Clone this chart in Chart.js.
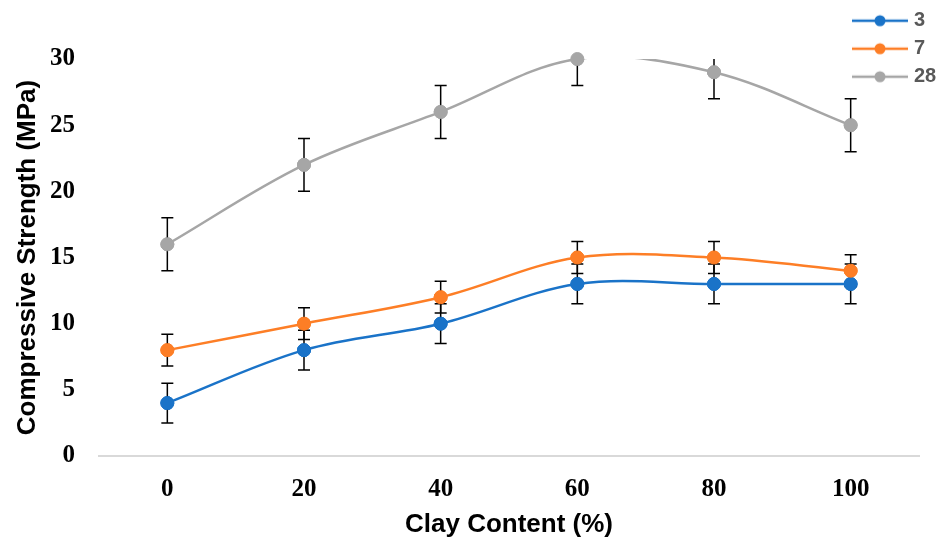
<!DOCTYPE html>
<html>
<head>
<meta charset="utf-8">
<script src="https://cdn.jsdelivr.net/npm/chart.js@4.4.0/dist/chart.umd.min.js"></script>
<style>
  html, body { margin: 0; padding: 0; background: #fff; }
  #wrap { width: 941px; height: 543px; position: relative; }
</style>
</head>
<body>
<div id="wrap"><canvas id="strengthChart"></canvas></div>
<script>
var clayContent = ['0', '20', '40', '60', '80', '100'];
var strength3 = [4, 8, 10, 13, 13, 13];
var strength7 = [8, 10, 12, 15, 15, 14];
var strength28 = [16, 22, 26, 30, 29, 25];
var error3 = [1.5, 1.5, 1.5, 1.5, 1.5, 1.5];
var error7 = [1.2, 1.2, 1.2, 1.2, 1.2, 1.2];
var error28 = [2, 2, 2, 2, 2, 2];
var yTicks = [0, 5, 10, 15, 20, 25, 30];

var blue = '#1a73c8', orange = '#fd7e26', gray = '#a6a6a6';

// little line + dot picture for the legend
function legendSample(color) {
  var c = document.createElement('canvas');
  c.width = 56; c.height = 14;
  var g = c.getContext('2d');
  g.strokeStyle = color; g.lineWidth = 2.5;
  g.beginPath(); g.moveTo(0, 7); g.lineTo(56, 7); g.stroke();
  g.fillStyle = color;
  g.beginPath(); g.arc(28, 7, 5.5, 0, Math.PI * 2); g.fill();
  return c;
}

function series(label, values, errors, color) {
  return {
    label: label,
    data: values,
    errors: errors,
    borderColor: color,
    backgroundColor: color,
    pointBackgroundColor: color,
    pointBorderColor: color,
    borderWidth: 2.5,
    pointRadius: 6.5,
    pointBorderWidth: 1,
    tension: 0.35,
    capBezierPoints: false,
    clip: 0,
    fill: false,
    sample: legendSample(color)
  };
}

var errorBars = {
  id: 'errorBars',
  afterLayout: function (chart) {
    // legend sits in the top right corner, over the plot
    var lg = chart.legend;
    lg.left = 848; lg.right = 941; lg.top = 2.7; lg.bottom = 120;
  },
  afterDatasetsDraw: function (chart) {
    var ctx = chart.ctx, area = chart.chartArea, y = chart.scales.y;
    ctx.save();
    ctx.beginPath();
    ctx.rect(area.left, area.top, area.right - area.left, area.bottom - area.top);
    ctx.clip();
    ctx.strokeStyle = '#000';
    ctx.lineWidth = 1.5;
    chart.data.datasets.forEach(function (ds, i) {
      chart.getDatasetMeta(i).data.forEach(function (pt, j) {
        var top = y.getPixelForValue(ds.data[j] + ds.errors[j]);
        var bot = y.getPixelForValue(ds.data[j] - ds.errors[j]);
        ctx.beginPath();
        ctx.moveTo(pt.x, top); ctx.lineTo(pt.x, bot);
        ctx.moveTo(pt.x - 6, top); ctx.lineTo(pt.x + 6, top);
        ctx.moveTo(pt.x - 6, bot); ctx.lineTo(pt.x + 6, bot);
        ctx.stroke();
      });
    });
    ctx.restore();
    // markers above the bars and not cut at the top edge
    chart.data.datasets.forEach(function (ds, i) {
      chart.getDatasetMeta(i).data.forEach(function (pt) { pt.draw(ctx, area); });
    });
  }
};

var ctx = document.getElementById('strengthChart').getContext('2d');
var strengthChart = new Chart(ctx, {
  type: 'line',
  data: {
    labels: clayContent,
    datasets: [
      series('3', strength3, error3, blue),
      series('7', strength7, error7, orange),
      series('28', strength28, error28, gray)
    ]
  },
  options: {
    responsive: true,
    maintainAspectRatio: false,
    animation: false,
    layout: { padding: { top: 59, right: 22, bottom: 0, left: 0 } },
    scales: {
      x: {
        type: 'category',
        offset: true,
        grid: { display: false },
        border: { display: true, color: '#d9d9d9', width: 2 },
        ticks: {
          padding: 11,
          color: '#000',
          font: { family: '"Liberation Serif", "Times New Roman", serif', size: 25, weight: 'bold' }
        },
        title: {
          display: true,
          text: 'Clay Content (%)',
          color: '#000',
          padding: { top: 0, bottom: 3 },
          font: { family: '"Liberation Sans", Arial, sans-serif', size: 26, weight: 'bold' }
        },
        afterFit: function (s) {
          s.height = 87;
          s.paddingLeft = 0; s.paddingRight = 0;
        }
      },
      y: {
        min: 0,
        max: 30,
        grid: { display: false },
        border: { display: false },
        ticks: {
          padding: 16,
          color: '#000',
          font: { family: '"Liberation Serif", "Times New Roman", serif', size: 25, weight: 'bold' }
        },
        afterBuildTicks: function (s) {
          s.ticks = yTicks.map(function (v) { return { value: v }; });
        },
        title: {
          display: true,
          text: 'Compressive Strength (MPa)',
          color: '#000',
          padding: { top: 12, bottom: 0 },
          font: { family: '"Liberation Sans", Arial, sans-serif', size: 26, weight: 'bold' }
        },
        afterFit: function (s) {
          s.width = 99;
          s.paddingTop = 0; s.paddingBottom = 0;
        }
      }
    },
    plugins: {
      tooltip: { enabled: false },
      legend: {
        display: true,
        position: 'chartArea',
        align: 'start',
        labels: {
          usePointStyle: true,
          pointStyleWidth: 48,
          boxHeight: 14,
          padding: 8,
          color: '#595959',
          font: { family: '"Liberation Sans", Arial, sans-serif', size: 20, weight: 'bold' },
          generateLabels: function (chart) {
            var items = Chart.defaults.plugins.legend.labels.generateLabels(chart);
            items.forEach(function (it) {
              it.pointStyle = chart.data.datasets[it.datasetIndex].sample;
            });
            return items;
          }
        }
      }
    }
  },
  plugins: [errorBars]
});
</script>
</body>
</html>
